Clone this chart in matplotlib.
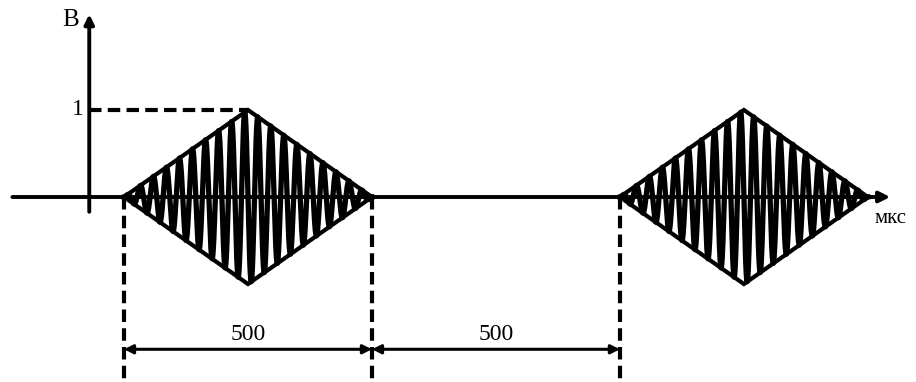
import numpy as np
import matplotlib.pyplot as plt

# two tone-burst pulses, triangular envelope (time in мкс, level in В)
pulse_starts = [0, 1000]
pulse_width = 500
peak_level = 1.0
carrier_cycles = 19
dim_marks = [0, 500, 1000]
dim_labels = ['500', '500']

plt.rcParams['font.family'] = ['Liberation Serif', 'DejaVu Serif']

fig = plt.figure(figsize=(9.16, 3.82), dpi=100)
ax = fig.add_axes([0, 0, 1, 1])
ax.set_xlim(-250, 1597)
ax.set_ylim(-2.126, 2.264)
ax.axis('off')

# axes with arrow heads
ax.annotate('', xy=(1545, 0), xytext=(-225, 0),
            arrowprops=dict(arrowstyle='-|>', lw=2.8, color='black',
                            mutation_scale=16, shrinkA=0, shrinkB=0))
ax.annotate('', xy=(-70, 2.1), xytext=(-70, -0.17),
            arrowprops=dict(arrowstyle='-|>', lw=2.8, color='black',
                            mutation_scale=14, shrinkA=0, shrinkB=0))

# the pulses
for start in pulse_starts:
    t = np.linspace(start, start + pulse_width, 3000)
    phase = (t - start) / pulse_width
    env = peak_level * (1 - np.abs(2 * phase - 1))
    ax.plot(t, env * np.sin(2 * np.pi * carrier_cycles * phase), color='black', lw=3.8)
    mid = start + pulse_width / 2
    ax.plot([start, mid, start + pulse_width, mid, start],
            [0, peak_level, 0, -peak_level, 0], color='black', lw=3.0,
            solid_joinstyle='miter')

# level 1 guide
ax.plot([-70, pulse_starts[0] + pulse_width / 2], [peak_level, peak_level],
        color='black', lw=3.0, ls=(0, (3, 1.5)))

# vertical guides and dimensions
for m in dim_marks:
    ax.plot([m, m], [0, -2.2], color='black', lw=3.0, ls=(0, (3, 1.5)))
for i, lab in enumerate(dim_labels):
    a, b = dim_marks[i], dim_marks[i + 1]
    ax.annotate('', xy=(b, -1.75), xytext=(a, -1.75),
                arrowprops=dict(arrowstyle='<|-|>', lw=2.2, color='black',
                                mutation_scale=13, shrinkA=0, shrinkB=0))
    ax.text((a + b) / 2, -1.70, lab, ha='center', va='bottom', fontsize=17)

ax.text(-107, 2.03, 'В', ha='center', va='center', fontsize=18)
ax.text(-92, 1.0, '1', ha='center', va='center', fontsize=17)
ax.text(1546, -0.25, 'мкс', ha='center', va='center', fontsize=15)

plt.savefig('out.png', dpi=100)
